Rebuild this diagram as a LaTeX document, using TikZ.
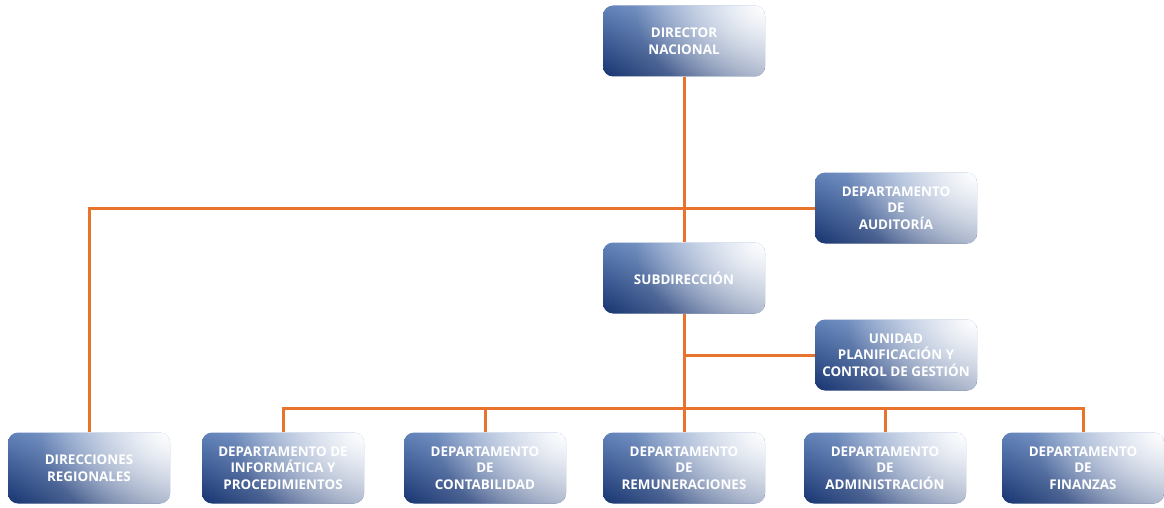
\documentclass[tikz,border=0pt]{standalone}
\usepackage{fontspec}
\setmainfont{Open Sans}
\usetikzlibrary{backgrounds,fadings}
\definecolor{boxdark}{HTML}{173470}
\definecolor{boxtop}{HTML}{6283BA}
\definecolor{linkorange}{HTML}{E8732C}
\tikzfading[name=hfade, left color=transparent!100, right color=transparent!48]
\tikzfading[name=glow, inner color=transparent!0, outer color=transparent!100]
\begin{document}
\begin{tikzpicture}[x=1pt,y=1pt,
  orgbox/.style={rounded corners=10pt, minimum width=162pt, minimum height=71pt,
    inner sep=0pt, align=center, text=white, font=\fontsize{13.4}{16.7}\selectfont\bfseries,
    top color=boxtop, bottom color=boxdark,
    path picture={
      \fill[white, path fading=hfade] (path picture bounding box.south west) rectangle (path picture bounding box.north east);
      \fill[white, path fading=glow] ([shift={(-130,-100)}]path picture bounding box.north east) rectangle ([shift={(130,100)}]path picture bounding box.north east);
    }},
  link/.style={draw=linkorange, line width=3pt}]
\useasboundingbox (0,0) rectangle (1164,-508);
\node[orgbox] (dir) at (684,-41) {DIRECTOR\\NACIONAL};
\node[orgbox] (aud) at (896,-208) {DEPARTAMENTO\\DE\\AUDITORÍA};
\node[orgbox] (sub) at (684,-278) {SUBDIRECCIÓN};
\node[orgbox] (uni) at (896,-355) {UNIDAD\\PLANIFICACIÓN Y\\CONTROL DE GESTIÓN};
\node[orgbox] (reg) at (89,-468) {DIRECCIONES\\REGIONALES};
\node[orgbox] (inf) at (283,-468) {DEPARTAMENTO DE\\INFORMÁTICA Y\\PROCEDIMIENTOS};
\node[orgbox] (con) at (485,-468) {DEPARTAMENTO\\DE\\CONTABILIDAD};
\node[orgbox] (rem) at (684,-468) {DEPARTAMENTO\\DE\\REMUNERACIONES};
\node[orgbox] (adm) at (885,-468) {DEPARTAMENTO\\DE\\ADMINISTRACIÓN};
\node[orgbox] (fin) at (1083,-468) {DEPARTAMENTO\\DE\\FINANZAS};
\coordinate (bus) at (684,-408);
\begin{scope}[on background layer]
\draw[link] (dir.south) -- (sub.north);
\draw[link] (aud.west) -- (reg.north |- aud.west) -- (reg.north);
\draw[link] (sub.south) -- (rem.north);
\draw[link] (sub.south |- uni.west) -- (uni.west);
\draw[link] (inf.north) -- (inf.north |- bus) -- (fin.north |- bus) -- (fin.north);
\draw[link] (con.north) -- (con.north |- bus);
\draw[link] (adm.north) -- (adm.north |- bus);
\end{scope}
\end{tikzpicture}
\end{document}
